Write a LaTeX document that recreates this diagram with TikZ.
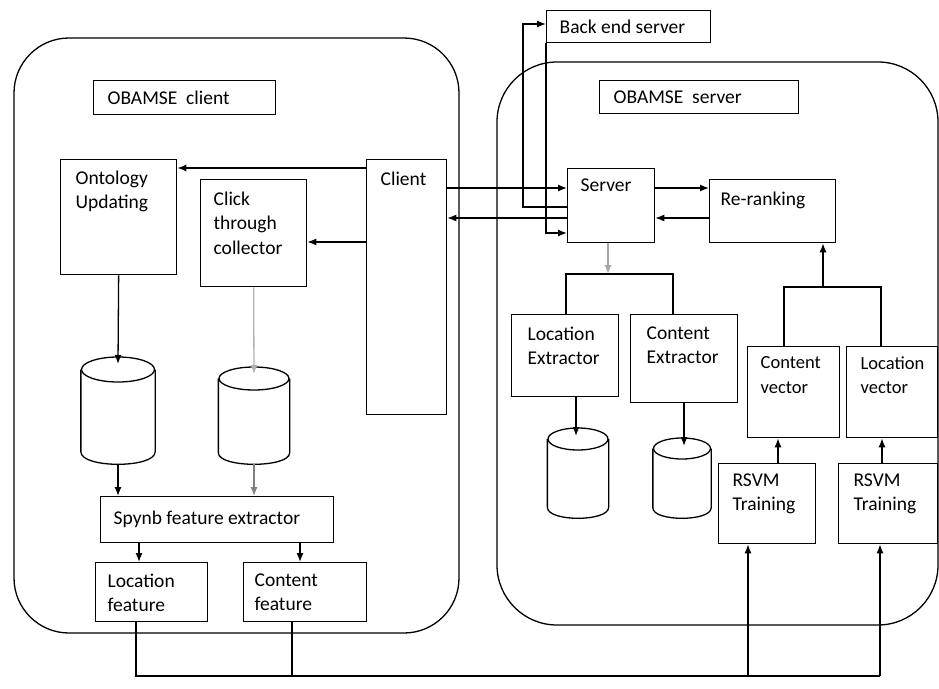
\documentclass[tikz,border=0pt]{standalone}
\usepackage{fontspec}
\setmainfont{Carlito}
\usetikzlibrary{arrows.meta}
\newcommand\lbfont{\fontsize{19.5}{24.5}\selectfont}
\newcommand\smfont{\fontsize{18.5}{24.5}\selectfont}
% database: name, x, y (top), width, height, end radius
\newcommand\dbase[6]{%
    \node[dbn, minimum width=#4, minimum height=#5] (#1) at (#2,#3) {};
    \draw ([yshift=-#6]#1.north) ellipse [x radius={0.5*#4pt}, y radius=#6pt];
    \draw ([yshift=-#6]#1.north west) -- ([yshift=#6]#1.south west)
        .. controls ([yshift={-#6/3}]#1.south west) and ([yshift={-#6/3}]#1.south east) .. ([yshift=#6]#1.south east)
        -- ([yshift=-#6]#1.north east);
}

\begin{document}
\begin{tikzpicture}[x=1pt,y=-1pt,line width=1.3pt,
    blk/.style={draw, anchor=north west, inner sep=0pt},
    dbn/.style={anchor=north, inner sep=0pt},
    txt/.style={font=\lbfont, align=left, inner sep=0pt, anchor=north west},
    arr/.style={-{Latex[length=9pt,width=7pt]}}]
    \useasboundingbox (0,0) rectangle (939,688);

    % areas
    \draw[rounded corners=55] (14,38) rectangle (459,633);
    \draw[rounded corners=60] (497,62) rectangle (938,625);

    % boxes
    \node[blk, minimum width=182, minimum height=34] (obc) at (93,80) {};
    \node[blk, minimum width=199, minimum height=33] (obs) at (599,80) {};
    \node[blk, minimum width=164, minimum height=32] (bes) at (546,10) {};
    \node[blk, minimum width=116, minimum height=115] (ont) at (60,159) {};
    \node[blk, minimum width=106, minimum height=107] (clk) at (200,179) {};
    \node[blk, minimum width=80, minimum height=255] (cli) at (366,159) {};
    \node[blk, minimum width=87, minimum height=74] (srv) at (567,168) {};
    \node[blk, minimum width=126, minimum height=63] (rrk) at (709,179) {};
    \node[blk, minimum width=107, minimum height=82] (lex) at (511,314) {};
    \node[blk, minimum width=107, minimum height=88] (cex) at (630,314) {};
    \node[blk, minimum width=92, minimum height=91] (cvec) at (747,346) {};
    \node[blk, minimum width=91, minimum height=91] (lvec) at (846,346) {};
    \node[blk, minimum width=97, minimum height=80] (rsvm1) at (718,463) {};
    \node[blk, minimum width=99, minimum height=80] (rsvm2) at (838,463) {};
    \node[blk, minimum width=233, minimum height=46] (spy) at (100,496) {};
    \node[blk, minimum width=112, minimum height=59] (lfe) at (95,562) {};
    \node[blk, minimum width=123, minimum height=59] (cfe) at (243,562) {};

    % databases
    \dbase{db1}{118}{357}{73}{106}{12.5}
    \dbase{db2}{254}{367}{70}{96}{11.5}
    \dbase{db3}{578}{428}{60}{89}{11}
    \dbase{db4}{682}{438}{57}{79}{10.5}

    % texts
    \node[txt, anchor=west] (tobc) at ([xshift=14]obc.west) {OBAMSE~~client};
    \node[txt, anchor=west] (tobs) at ([xshift=14]obs.west) {OBAMSE~~server};
    \node[txt, anchor=west] (tbes) at ([xshift=13]bes.west) {Back end server};
    \node[txt] (tont) at ([shift={(15,11)}]ont.north west) {Ontology\\Updating};
    \node[txt] (tclk) at ([shift={(13,12)}]clk.north west) {Click\\through\\collector};
    \node[txt] (tcli) at ([shift={(14,12)}]cli.north west) {Client};
    \node[txt] (tsrv) at ([shift={(13,10)}]srv.north west) {Server};
    \node[txt] (trrk) at ([shift={(11,12)}]rrk.north west) {Re-ranking};
    \node[txt] (tlex) at ([shift={(16,12)}]lex.north west) {Location\\Extractor};
    \node[txt] (tcex) at ([shift={(16,12)}]cex.north west) {Content\\Extractor};
    \node[txt, font=\smfont] (tcvec) at ([shift={(13,10)}]cvec.north west) {Content\\vector};
    \node[txt, font=\smfont] (tlvec) at ([shift={(14,10)}]lvec.north west) {Location\\vector};
    \node[txt] (trsvm1) at ([shift={(14,10)}]rsvm1.north west) {RSVM\\Training};
    \node[txt] (trsvm2) at ([shift={(15,10)}]rsvm2.north west) {RSVM\\Training};
    \node[txt, anchor=west] (tspy) at ([xshift=13]spy.west) {Spynb feature extractor};
    \node[txt] (tlfe) at ([shift={(12,11)}]lfe.north west) {Location\\feature};
    \node[txt] (tcfe) at ([shift={(11,11)}]cfe.north west) {Content\\feature};

    % client side
    \draw[arr] (cli.west |- 0,168) -- (ont.east |- 0,168);
    \draw[arr] (cli.west |- 0,242) -- (clk.east |- 0,242);
    \draw[arr] (ont.south) -- ([yshift=-7]db1.north);
    \draw[arr, gray!60] (clk.south) -- ([yshift=-7]db2.north);
    \draw[arr] (db1.south) -- (db1.south |- spy.north);
    \draw[arr, gray] (db2.south) -- (db2.south |- spy.north);
    \draw[arr] (spy.south -| 139,0) -- (lfe.north -| 139,0);
    \draw[arr] (spy.south -| 300,0) -- (cfe.north -| 300,0);

    % client <-> server
    \draw[arr] (cli.east |- 0,188) -- (srv.west |- 0,188);
    \draw[arr] (srv.west |- 0,218) -- (cli.east |- 0,218);
    \draw[arr] (srv.west |- 0,207) -- ++(-44,0) |- (bes.west |- 0,24);
    \draw[arr] (bes.south west) |- (srv.west |- 0,233);
    \draw[arr] (srv.east |- 0,188) -- (rrk.west |- 0,188);
    \draw[arr] (rrk.west |- 0,218) -- (srv.east |- 0,218);

    % server side
    \coordinate (ej) at (608,274);
    \draw[arr, gray!70] (srv.south -| ej) -- (ej);
    \draw (lex.north -| 566,0) |- (ej) -| (cex.north -| 673,0);
    \draw[arr] (lex.south -| 576,0) -- ([yshift=-8]db3.north -| 576,0);
    \draw[arr] (cex.south -| 684,0) -- ([yshift=-8]db4.north -| 684,0);
    \coordinate (vj) at (823,287);
    \draw (cvec.north -| 784,0) |- (vj) -| (lvec.north -| 881,0);
    \draw[arr] (vj) -- (rrk.south -| vj);
    \draw[arr] (rsvm1.north -| 778,0) -- (cvec.south -| 778,0);
    \draw[arr] (rsvm2.north -| 882,0) -- (lvec.south -| 882,0);

    % feature bus
    \coordinate (busL) at (136,676);
    \coordinate (busR) at (880,676);
    \draw (lfe.south -| busL) -- (busL) -- (busR);
    \draw (cfe.south -| 292,0) -- (292,676);
    \draw[arr] (748,676) -- (rsvm1.south -| 748,0);
    \draw[arr] (busR) -- (rsvm2.south -| busR);
\end{tikzpicture}
\end{document}
